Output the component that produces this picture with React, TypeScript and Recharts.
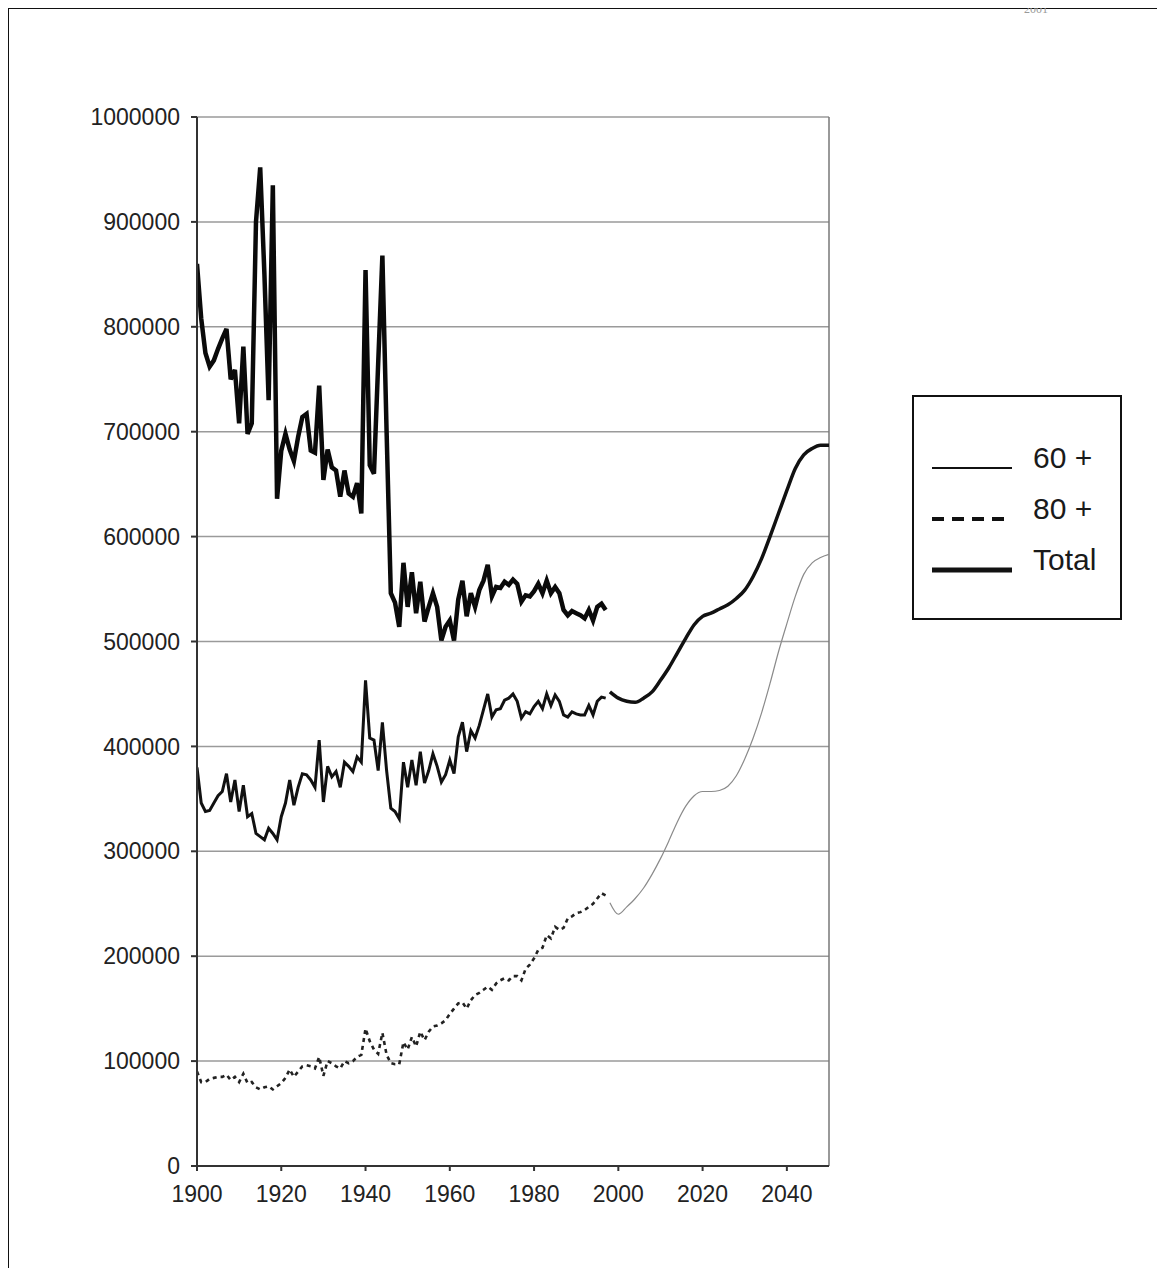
import { LineChart, Line, XAxis, YAxis, CartesianGrid, ReferenceLine, Legend } from 'recharts';

// historical series, one value per year starting in 1900
const HIST_START = 1900;

const totalHist = [
  860000, 808000, 775000, 762000, 768000, 779000, 789000, 798000, 750000, 759000,
  708000, 781000, 698000, 708000, 900000, 952000, 850000, 730000, 935000, 636000,
  682000, 698000, 683000, 672000, 695000, 714000, 717000, 682000, 680000, 744000,
  654000, 683000, 666000, 663000, 638000, 663000, 641000, 638000, 651000, 622000,
  854000, 668000, 660000, 765000, 868000, 700000, 546000, 537000, 514000, 575000,
  533000, 566000, 527000, 557000, 519000, 533000, 546000, 533000, 501000, 514000,
  520000, 501000, 540000, 558000, 524000, 546000, 533000, 549000, 558000, 573000,
  543000, 552000, 551000, 557000, 554000, 559000, 555000, 538000, 544000, 543000,
  548000, 555000, 546000, 558000, 546000, 552000, 546000, 530000, 525000, 529000,
  527000, 525000, 522000, 530000, 520000, 533000, 536000, 530000,
];

const over60Hist = [
  380000, 346000, 338000, 339000, 346000, 353000, 357000, 374000, 347000, 368000,
  338000, 363000, 333000, 336000, 317000, 314000, 311000, 322000, 317000, 311000,
  333000, 346000, 368000, 344000, 361000, 374000, 373000, 368000, 361000, 406000,
  347000, 381000, 371000, 376000, 361000, 385000, 381000, 376000, 390000, 385000,
  463000, 408000, 406000, 377000, 423000, 377000, 341000, 338000, 331000, 385000,
  361000, 387000, 363000, 395000, 365000, 377000, 393000, 381000, 366000, 373000,
  387000, 374000, 409000, 423000, 395000, 415000, 408000, 420000, 435000, 450000,
  428000, 435000, 436000, 444000, 446000, 450000, 443000, 427000, 433000, 431000,
  438000, 443000, 436000, 450000, 439000, 449000, 443000, 430000, 428000, 433000,
  431000, 430000, 430000, 439000, 430000, 443000, 447000, 446000,
];

const over80Hist = [
  90000, 80000, 80000, 83000, 84000, 85000, 85000, 87000, 82000, 85000,
  80000, 88000, 79000, 80000, 75000, 73000, 75000, 76000, 73000, 76000,
  79000, 84000, 92000, 85000, 90000, 95000, 96000, 95000, 93000, 104000,
  86000, 100000, 98000, 95000, 93000, 100000, 98000, 100000, 104000, 106000,
  131000, 119000, 111000, 107000, 127000, 106000, 98000, 97000, 97000, 118000,
  111000, 123000, 114000, 128000, 120000, 128000, 133000, 134000, 136000, 139000,
  145000, 150000, 155000, 156000, 150000, 158000, 163000, 165000, 168000, 171000,
  168000, 174000, 177000, 179000, 177000, 181000, 181000, 177000, 188000, 192000,
  198000, 206000, 208000, 220000, 217000, 228000, 225000, 227000, 236000, 238000,
  241000, 242000, 244000, 247000, 250000, 255000, 260000, 258000,
];

// projections
const projYears = [
  1998, 2000, 2002, 2004, 2006, 2008, 2010, 2012, 2014, 2016, 2018, 2020, 2022, 2024,
  2026, 2028, 2030, 2032, 2034, 2036, 2038, 2040, 2042, 2044, 2046, 2048, 2050,
];
const over60Proj = [
  452000, 446000, 443000, 442000, 446000, 452000, 463000, 475000, 489000, 503000,
  516000, 524000, 527000, 531000, 535000, 541000, 549000, 562000, 579000, 600000,
  622000, 644000, 665000, 678000, 684000, 687000, 687000,
];
const over80Proj = [
  251000, 240000, 247000, 255000, 265000, 278000, 293000, 310000, 328000, 343000,
  353000, 357000, 357000, 358000, 362000, 372000, 388000, 408000, 432000, 460000,
  490000, 517000, 543000, 564000, 575000, 580000, 583000,
];

const xTicks = [1900, 1920, 1940, 1960, 1980, 2000, 2020, 2040];
const yTicks = [0, 100000, 200000, 300000, 400000, 500000, 600000, 700000, 800000, 900000, 1000000];
const legendNames = ['60 +', '80 +', 'Total'];

const toRows = (vals: number[]) => vals.map((v, i) => ({ year: HIST_START + i, value: v }));
const toProj = (vals: number[]) => vals.map((v, i) => ({ year: projYears[i], value: v }));

const FONT = '"Liberation Sans", Arial, sans-serif';

const LegendBox = () => {
  const strokes = [
    { w: 2, dash: undefined },
    { w: 4, dash: '12 8' },
    { w: 5, dash: undefined },
  ];
  return (
    <div style={{ width: 206, height: 221, border: '2px solid #111', background: '#fff' }}>
      <svg width={206} height={221}>
        {legendNames.map((name, i) => {
          const y = 60 + i * 51;
          return (
            <g key={name}>
              <line x1={18} x2={98} y1={y + 11} y2={y + 11} stroke="#111"
                strokeWidth={strokes[i].w} strokeDasharray={strokes[i].dash} />
              <text x={119} y={y} dominantBaseline="central" fontSize={30}
                fontFamily={FONT} fill="#1a1a1a">{name}</text>
            </g>
          );
        })}
      </svg>
    </div>
  );
};

export default function App() {
  return (
    <div style={{ position: 'relative', margin: '-8px 0 0 -8px', width: 1165, height: 1268, overflow: 'hidden', background: '#fff' }}>
      <div style={{ position: 'absolute', left: 0, top: 0 }}>
        <LineChart width={1165} height={1276} margin={{ top: 117, right: 336, left: 117, bottom: 80 }}>
          <CartesianGrid vertical={false} stroke="#9a9a9a" strokeWidth={1.5} />
          <XAxis
            type="number"
            dataKey="year"
            domain={[1900, 2050]}
            ticks={xTicks}
            allowDataOverflow
            height={30}
            tickSize={5}
            tickMargin={15}
            stroke="#333"
            strokeWidth={2}
            tick={{ fontSize: 23, fill: '#222', fontFamily: FONT }}
          />
          <YAxis
            type="number"
            domain={[0, 1000000]}
            ticks={yTicks}
            width={80}
            tickSize={6}
            tickMargin={11}
            stroke="#333"
            strokeWidth={2}
            tick={{ fontSize: 23, fill: '#222', fontFamily: FONT }}
          />
          <ReferenceLine x={2050} stroke="#777" strokeWidth={1.5} />
          <Legend
            layout="horizontal"
            verticalAlign="middle"
            align="center"
            content={() => <LegendBox />}
            wrapperStyle={{ left: 912, top: 395, width: 210, height: 225 }}
          />
          <Line data={toRows(over80Hist)} dataKey="value" name="80 +" type="linear" stroke="#222"
            strokeWidth={2.6} strokeDasharray="4 4" dot={false} isAnimationActive={false} />
          <Line data={toProj(over80Proj)} dataKey="value" name="80 + proj" type="monotone" stroke="#8a8a8a"
            strokeWidth={1.2} dot={false} isAnimationActive={false} legendType="none" />
          <Line data={toRows(over60Hist)} dataKey="value" name="60 +" type="linear" stroke="#111"
            strokeWidth={3} dot={false} isAnimationActive={false} />
          <Line data={toProj(over60Proj)} dataKey="value" name="60 + proj" type="monotone" stroke="#111"
            strokeWidth={3.5} dot={false} isAnimationActive={false} legendType="none" />
          <Line data={toRows(totalHist)} dataKey="value" name="Total" type="linear" stroke="#0a0a0a"
            strokeWidth={4.5} dot={false} isAnimationActive={false} />
        </LineChart>
      </div>
      <svg width={1165} height={1268} style={{ position: 'absolute', left: 0, top: 0, pointerEvents: 'none' }}>
        <rect x={6} y={6} width={3} height={1262} fill="#111" />
        <rect x={6} y={6} width={1159} height={3} fill="#111" />
        <text x={1024} y={13} fontSize={12} fill="#999" fontFamily='"Liberation Serif", serif'>2001</text>
      </svg>
    </div>
  );
}
